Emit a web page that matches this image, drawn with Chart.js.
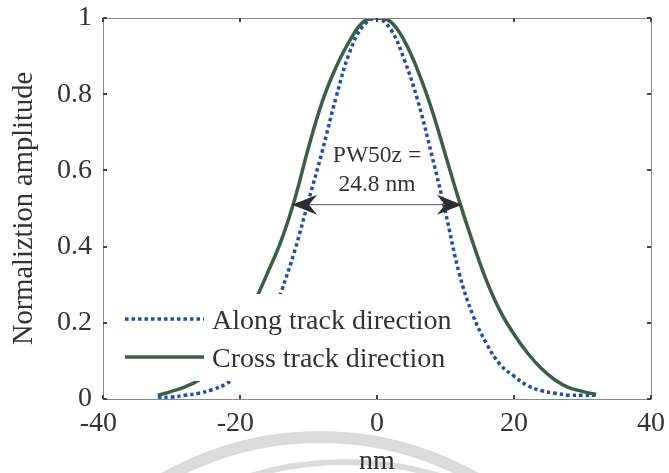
<!DOCTYPE html>
<html>
<head>
<meta charset="utf-8">
<script src="https://cdn.jsdelivr.net/npm/chart.js@4"></script>
<style>
  html, body { margin: 0; padding: 0; background: #fff; overflow: hidden; }
  #wrap { width: 669px; height: 473px; }
</style>
</head>
<body>
<div id="wrap"><canvas id="pulse"></canvas></div>
<script>
// * Data
const xNm = [-32, -30, -28, -26, -24, -22, -20, -18, -16, -14, -12, -10, -8, -6, -4, -2,
  0, 2, 4, 6, 8, 10, 12, 14, 16, 18, 20, 22, 24, 26, 28, 30, 32];
const alongTrack = [0.005, 0.005, 0.01, 0.015, 0.025, 0.04, 0.07, 0.11, 0.18, 0.28, 0.39, 0.52, 0.65, 0.79, 0.91, 0.98,
  1.0, 0.97, 0.89, 0.78, 0.64, 0.49, 0.33, 0.22, 0.145, 0.09, 0.06, 0.035, 0.022, 0.015, 0.01, 0.01, 0.01];
const crossTrack = [0.01, 0.02, 0.032, 0.05, 0.08, 0.12, 0.18, 0.25, 0.33, 0.415, 0.525, 0.66, 0.78, 0.87, 0.94, 0.99,
  1.0, 0.99, 0.94, 0.86, 0.76, 0.64, 0.52, 0.41, 0.31, 0.23, 0.17, 0.12, 0.08, 0.05, 0.03, 0.02, 0.012];
const xTicks = [-40, -20, 0, 20, 40];
const yTicks = [0, 0.2, 0.4, 0.6, 0.8, 1];
const seriesNames = ["Along track direction", "Cross track direction"];

// PW50 marker: width at half amplitude
const pw50 = 24.8;
const pw50Level = 0.51;
const pw50Text = ["PW50z =", pw50 + " nm"];

const blue = "#1f4fae";
const green = "#3b5f45";
const ink = "#333";
const serif = "'Liberation Serif', 'Times New Roman', serif";

const toPoints = (ys) => xNm.map((x, i) => ({ x: x, y: ys[i] }));

// * Faint circular watermark under the axis
const watermark = {
  id: "watermark",
  beforeDraw(chart) {
    const ctx = chart.ctx;
    ctx.save();
    ctx.strokeStyle = "rgba(210,210,210,0.8)";
    ctx.lineWidth = 12;
    ctx.beginPath();
    ctx.arc(320, 752, 315, Math.PI * 1.25, Math.PI * 1.75);
    ctx.stroke();
    ctx.lineWidth = 6;
    ctx.beginPath();
    ctx.arc(345, 790, 328, Math.PI * 1.3, Math.PI * 1.7);
    ctx.stroke();
    ctx.restore();
  },
};

// * Box frame with inward ticks, x labels with the minus sign hanging left
const frame = {
  id: "frame",
  afterDatasetsDraw(chart) {
    const { ctx, chartArea: a, scales } = chart;
    ctx.save();
    ctx.strokeStyle = "#8a8a8a";
    ctx.lineWidth = 1;
    ctx.strokeRect(a.left + 0.5, a.top + 0.5, a.right - a.left, a.bottom - a.top);
    ctx.strokeStyle = "#444";
    ctx.lineWidth = 2;
    ctx.beginPath();
    xTicks.forEach((v) => {
      const px = Math.round(scales.x.getPixelForValue(v));
      ctx.moveTo(px, a.bottom); ctx.lineTo(px, a.bottom - 4);
      ctx.moveTo(px, a.top); ctx.lineTo(px, a.top + 4);
    });
    yTicks.forEach((v) => {
      const py = Math.round(scales.y.getPixelForValue(v));
      ctx.moveTo(a.left, py); ctx.lineTo(a.left + 4, py);
      ctx.moveTo(a.right, py); ctx.lineTo(a.right - 4, py);
    });
    ctx.stroke();

    ctx.font = "28px " + serif;
    ctx.fillStyle = ink;
    ctx.textAlign = "right";
    ctx.textBaseline = "middle";
    xTicks.forEach((v) => {
      const px = scales.x.getPixelForValue(v);
      const digits = String(Math.abs(v));
      const w = ctx.measureText(digits).width;
      ctx.fillText(String(v), px + w / 2, a.bottom + 25);
    });
    ctx.restore();
  },
};

// * PW50 arrow and label
function arrowHead(ctx, x, y, dir) {
  ctx.beginPath();
  ctx.moveTo(x, y);
  ctx.lineTo(x - dir * 25, y - 10);
  ctx.lineTo(x - dir * 17, y);
  ctx.lineTo(x - dir * 25, y + 10);
  ctx.closePath();
  ctx.fill();
}

const pwMarker = {
  id: "pwMarker",
  afterDatasetsDraw(chart) {
    const { ctx, scales } = chart;
    const x1 = scales.x.getPixelForValue(-pw50 / 2);
    const x2 = scales.x.getPixelForValue(pw50 / 2);
    const y = scales.y.getPixelForValue(pw50Level);
    ctx.save();
    ctx.strokeStyle = "#555";
    ctx.fillStyle = "#2e2e2e";
    ctx.lineWidth = 1;
    ctx.beginPath();
    ctx.moveTo(x1 + 10, y);
    ctx.lineTo(x2 - 10, y);
    ctx.stroke();
    arrowHead(ctx, x1, y, -1);
    arrowHead(ctx, x2, y, 1);
    ctx.font = "23.5px " + serif;
    ctx.fillStyle = ink;
    ctx.textAlign = "center";
    ctx.textBaseline = "middle";
    const cx = scales.x.getPixelForValue(0);
    ctx.fillText(pw50Text[0], cx, y - 49);
    ctx.fillText(pw50Text[1], cx, y - 20);
    ctx.restore();
  },
};

// * Legend box drawn inside the plot, white filled
const innerLegend = {
  id: "innerLegend",
  afterDatasetsDraw(chart) {
    const ctx = chart.ctx;
    const left = 108, top = 294;
    ctx.save();
    ctx.fillStyle = "#fff";
    ctx.fillRect(left, top, 352, 87);
    const rows = [
      { y: 319, color: blue, dash: [3.5, 3] },
      { y: 357, color: green, dash: [] },
    ];
    rows.forEach((r, i) => {
      ctx.strokeStyle = r.color;
      ctx.lineWidth = 3.5;
      ctx.setLineDash(r.dash);
      ctx.beginPath();
      ctx.moveTo(125, r.y);
      ctx.lineTo(204, r.y);
      ctx.stroke();
      ctx.setLineDash([]);
      ctx.font = "28px " + serif;
      ctx.fillStyle = ink;
      ctx.textBaseline = "middle";
      ctx.fillText(seriesNames[i], 212, r.y + 3);
    });
    ctx.restore();
  },
};

const ctx = document.getElementById("pulse").getContext("2d");

const pulseChart = new Chart(ctx, {
  type: "scatter",
  data: {
    datasets: [
      {
        label: seriesNames[0],
        data: toPoints(alongTrack),
        showLine: true,
        borderColor: blue,
        borderWidth: 3.5,
        borderDash: [3.5, 3],
        pointRadius: 0,
        tension: 0.4,
        order: 1,
      },
      {
        label: seriesNames[1],
        data: toPoints(crossTrack),
        showLine: true,
        borderColor: green,
        borderWidth: 3.5,
        pointRadius: 0,
        tension: 0.4,
        order: 0,
      },
    ],
  },
  options: {
    responsive: true,
    maintainAspectRatio: false,
    animation: false,
    layout: { padding: { top: 18, right: 18, left: 0, bottom: 0 } },
    plugins: {
      legend: { display: false },
      tooltip: { enabled: false },
    },
    scales: {
      x: {
        type: "linear",
        min: -40,
        max: 40,
        afterBuildTicks: (s) => { s.ticks = xTicks.map((v) => ({ value: v })); },
        afterFit: (s) => { s.height = 74; },
        grid: { display: false, drawTicks: false },
        border: { display: false },
        ticks: { display: false },
        title: {
          display: true,
          text: "nm",
          color: ink,
          padding: { top: 0, bottom: -3 },
          font: { family: serif, size: 28, lineHeight: 1 },
        },
      },
      y: {
        min: 0,
        max: 1,
        afterBuildTicks: (s) => { s.ticks = yTicks.map((v) => ({ value: v })); },
        afterFit: (s) => { s.width = 103; },
        grid: { display: false, drawTicks: false },
        border: { display: false },
        ticks: {
          color: ink,
          padding: 11,
          font: { family: serif, size: 28, lineHeight: 0.01 },
          callback: (v) => String(v),
        },
        title: {
          display: true,
          text: "Normaliztion amplitude",
          color: ink,
          padding: { top: 7, bottom: 0 },
          font: { family: serif, size: 28.5 },
        },
      },
    },
  },
  plugins: [watermark, frame, pwMarker, innerLegend],
});
</script>
</body>
</html>
